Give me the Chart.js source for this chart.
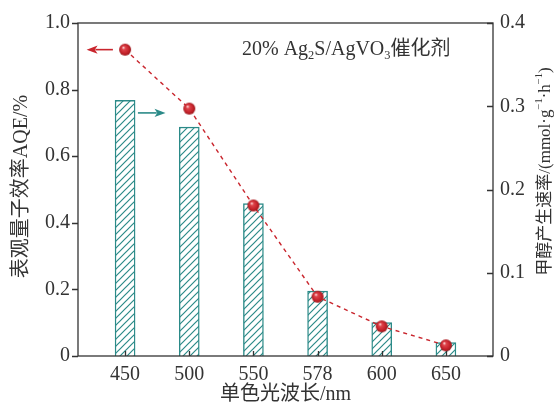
<!DOCTYPE html>
<html>
<head>
<meta charset="utf-8">
<script src="https://cdn.jsdelivr.net/npm/chart.js@4.4.1/dist/chart.umd.min.js"></script>
<style>
  html, body { margin: 0; padding: 0; background: #fff; }
  #wrap { width: 560px; height: 407px; }
</style>
</head>
<body>
<div id="wrap"><canvas id="c" width="560" height="407"></canvas></div>
<script>
// Monochromatic light wavelengths (nm)
const wavelengths = ['450', '500', '550', '578', '600', '650'];
// Apparent quantum efficiency AQE (%), left axis
const aqe = [0.92, 0.743, 0.452, 0.178, 0.089, 0.032];
// Methanol production rate (mmol·g^-1·h^-1), right axis
const rate = [0.307, 0.275, 0.183, 0.078, 0.040, 0.016];
// Axis tick values
const aqeTicks = [0, 0.2, 0.4, 0.6, 0.8, 1.0];
const rateTicks = [0, 0.1, 0.2, 0.3, 0.4];

const TEAL = '#2b8a88';
const RED = '#c9252d';
const INK = '#333333';
const FONT = '"Liberation Serif", "Noto Sans CJK SC", serif';

// Diagonal hatch fill for the bars
function hatchPattern() {
  const s = 7;
  const c = document.createElement('canvas');
  c.width = s; c.height = s;
  const g = c.getContext('2d');
  g.fillStyle = '#ffffff';
  g.fillRect(0, 0, s, s);
  g.strokeStyle = TEAL;
  g.lineWidth = 1.2;
  g.beginPath();
  g.moveTo(-1, s + 1); g.lineTo(s + 1, -1);
  g.moveTo(-1, 1); g.lineTo(1, -1);
  g.moveTo(s - 1, s + 1); g.lineTo(s + 1, s - 1);
  g.stroke();
  return g.createPattern(c, 'repeat');
}

// Shaded red sphere marker
function sphere() {
  const d = 14;
  const c = document.createElement('canvas');
  c.width = d; c.height = d;
  const g = c.getContext('2d');
  const grad = g.createRadialGradient(5.2, 4.8, 0.4, 7, 7, 6.2);
  grad.addColorStop(0, '#fbd6d6');
  grad.addColorStop(0.22, '#df454c');
  grad.addColorStop(0.7, '#c4222a');
  grad.addColorStop(1, '#961519');
  g.fillStyle = grad;
  g.beginPath();
  g.arc(7, 7, 6, 0, Math.PI * 2);
  g.fill();
  return c;
}

const xIdx = wavelengths.map((_, i) => i);

function fmt(v) { return v === 0 ? '0' : v.toFixed(1); }

// Draws text runs with sub/superscripts; returns total width
function runs(ctx, parts, x, y, size, measureOnly) {
  let w = 0;
  for (const p of parts) {
    const sz = p.k ? size * 0.62 : size;
    ctx.font = sz + 'px ' + FONT;
    const tw = ctx.measureText(p.t).width;
    if (!measureOnly) {
      let dy = 0;
      if (p.k === 'sub') dy = size * 0.22;
      if (p.k === 'sup') dy = -size * 0.38;
      ctx.fillText(p.t, x + w, y + dy);
    }
    w += tw;
  }
  return w;
}

function arrow(ctx, x1, y, x2, color) {
  // line from x1 to x2 with head at x2
  const dir = Math.sign(x2 - x1);
  const hl = 11, hw = 4.2;
  ctx.save();
  ctx.strokeStyle = color;
  ctx.fillStyle = color;
  ctx.lineWidth = 1.6;
  ctx.beginPath();
  ctx.moveTo(x1, y);
  ctx.lineTo(x2 - dir * hl * 0.8, y);
  ctx.stroke();
  ctx.beginPath();
  ctx.moveTo(x2, y);
  ctx.lineTo(x2 - dir * hl, y - hw);
  ctx.lineTo(x2 - dir * hl * 0.75, y);
  ctx.lineTo(x2 - dir * hl, y + hw);
  ctx.closePath();
  ctx.fill();
  ctx.restore();
}

const decor = {
  id: 'decor',
  beforeDraw(chart) {
    const ctx = chart.ctx;
    ctx.save();
    ctx.fillStyle = '#fff';
    ctx.fillRect(0, 0, chart.width, chart.height);
    ctx.restore();
  },
  afterDraw(chart) {
    const ctx = chart.ctx;
    const a = chart.chartArea;
    const sx = chart.scales.x, sy = chart.scales.y, sr = chart.scales.y2;
    ctx.save();
    // frame
    ctx.strokeStyle = INK;
    ctx.lineWidth = 1.3;
    ctx.strokeRect(a.left, a.top, a.right - a.left, a.bottom - a.top);
    // tick marks
    ctx.beginPath();
    aqeTicks.forEach(v => {
      const y = Math.round(sy.getPixelForValue(v)) + 0.5;
      ctx.moveTo(a.left - 6, y); ctx.lineTo(a.left, y);
    });
    rateTicks.forEach(v => {
      const y = Math.round(sr.getPixelForValue(v)) + 0.5;
      ctx.moveTo(a.right - 6, y); ctx.lineTo(a.right, y);
    });
    xIdx.forEach(i => {
      const x = Math.round(sx.getPixelForValue(i)) + 0.5;
      ctx.moveTo(x, a.bottom); ctx.lineTo(x, a.bottom - 5);
    });
    ctx.stroke();

    ctx.fillStyle = INK;
    ctx.textBaseline = 'middle';
    ctx.textAlign = 'center';
    // bottom title
    ctx.font = '20px ' + FONT;
    ctx.fillText('单色光波长/nm', (a.left + a.right) / 2, 395);
    // left title
    ctx.save();
    ctx.translate(22, (a.top + a.bottom) / 2 - 3);
    ctx.rotate(-Math.PI / 2);
    ctx.font = '20px ' + FONT;
    ctx.fillText('表观量子效率AQE/%', 0, 0);
    ctx.restore();
    // right title
    ctx.save();
    ctx.textAlign = 'left';
    ctx.textBaseline = 'middle';
    const rParts = [
      { t: '甲醇产生速率/(mmol·g' }, { t: '−1', k: 'sup' },
      { t: '·h' }, { t: '−1', k: 'sup' }, { t: ')' }
    ];
    ctx.translate(546, (a.top + a.bottom) / 2 - 18);
    ctx.rotate(-Math.PI / 2);
    const rw = runs(ctx, rParts, 0, 0, 17, true);
    runs(ctx, rParts, -rw / 2, 0, 17, false);
    ctx.restore();
    // catalyst label
    ctx.textAlign = 'left';
    ctx.textBaseline = 'alphabetic';
    const lParts = [
      { t: '20% Ag' }, { t: '2', k: 'sub' }, { t: 'S/AgVO' },
      { t: '3', k: 'sub' }, { t: '催化剂' }
    ];
    runs(ctx, lParts, a.left + 164, a.top + 32, 20, false);

    // series arrows: points → left axis, bars → right axis
    const yr = sy.getPixelForValue(aqe[0]);
    arrow(ctx, sx.getPixelForValue(-0.19), yr, sx.getPixelForValue(-0.6), RED);
    const yt = sy.getPixelForValue(0.73);
    arrow(ctx, sx.getPixelForValue(0.2), yt, sx.getPixelForValue(0.63), TEAL);
    ctx.restore();
  }
};

new Chart(document.getElementById('c'), {
  data: {
    datasets: [
      {
        type: 'line',
        label: 'AQE',
        data: xIdx.map(i => ({ x: i, y: aqe[i] })),
        yAxisID: 'y',
        borderColor: RED,
        borderWidth: 1.4,
        borderDash: [4, 4],
        tension: 0,
        pointStyle: sphere(),
        pointRadius: 6,
        order: 0
      },
      {
        type: 'bar',
        label: 'rate',
        data: xIdx.map(i => ({ x: i, y: rate[i] })),
        yAxisID: 'y2',
        backgroundColor: hatchPattern(),
        borderColor: TEAL,
        borderWidth: 1.4,
        barThickness: 20,
        order: 1
      }
    ]
  },
  options: {
    responsive: false,
    animation: false,
    events: [],
    layout: { padding: { top: 23, left: 0, right: 0, bottom: 0 } },
    plugins: { legend: { display: false }, tooltip: { enabled: false } },
    scales: {
      x: {
        type: 'linear',
        offset: false,
        min: -0.734,
        max: 5.734,
        afterBuildTicks: s => { s.ticks = xIdx.map(v => ({ value: v })); },
        afterFit: s => { s.height = 51; },
        grid: { display: false, drawTicks: false, offset: false },
        border: { display: false },
        ticks: {
          padding: 7,
          color: INK,
          font: { family: FONT, size: 20 },
          callback: v => wavelengths[v],
          maxRotation: 0,
          autoSkip: false
        }
      },
      y: {
        position: 'left',
        min: 0,
        max: 1.0,
        afterBuildTicks: s => { s.ticks = aqeTicks.map(v => ({ value: v })); },
        afterFit: s => { s.width = 78; },
        grid: { display: false, drawTicks: false },
        border: { display: false },
        ticks: {
          padding: 8,
          color: INK,
          font: { family: FONT, size: 20 },
          callback: fmt
        }
      },
      y2: {
        position: 'right',
        min: 0,
        max: 0.4,
        afterBuildTicks: s => { s.ticks = rateTicks.map(v => ({ value: v })); },
        afterFit: s => { s.width = 67; },
        grid: { display: false, drawTicks: false },
        border: { display: false },
        ticks: {
          padding: 7,
          color: INK,
          font: { family: FONT, size: 20 },
          callback: fmt
        }
      }
    }
  },
  plugins: [decor]
});
</script>
</body>
</html>
